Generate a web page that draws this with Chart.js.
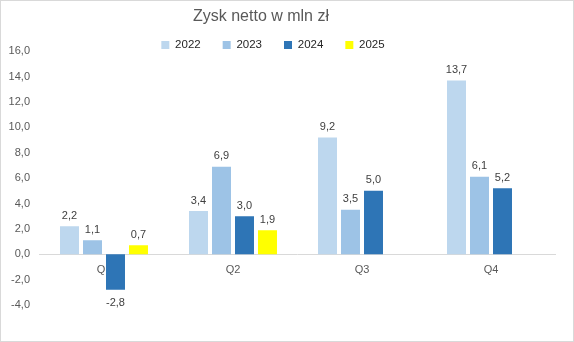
<!DOCTYPE html>
<html>
<head>
<meta charset="utf-8">
<script src="https://cdn.jsdelivr.net/npm/chart.js@4"></script>
<style>
  body { margin: 0; background: #fff; }
  #wrap { width: 574px; height: 342px; box-sizing: border-box; border: 1px solid #d9d9d9; position: relative; }
</style>
</head>
<body>
<div id="wrap"><canvas id="chart"></canvas></div>
<script>
const quarters = ["Q1", "Q2", "Q3", "Q4"];
const years = ["2022", "2023", "2024", "2025"];
const profit2022 = [2.2, 3.4, 9.2, 13.7];
const profit2023 = [1.1, 6.9, 3.5, 6.1];
const profit2024 = [-2.8, 3.0, 5.0, 5.2];
const profit2025 = [0.7, 1.9, null, null];

const colors = ["#bdd7ee", "#9dc3e6", "#2e75b6", "#ffff00"];
const series = [profit2022, profit2023, profit2024, profit2025];

const fmt = v => v.toFixed(1).replace(".", ",");

// value labels above / below each bar
const barLabels = {
    id: "barLabels",
    afterDatasetsDraw(chart) {
        const ctx = chart.ctx;
        ctx.save();
        ctx.font = "11px 'Liberation Sans'";
        ctx.fillStyle = "#404040";
        ctx.textAlign = "center";
        chart.data.datasets.forEach((ds, i) => {
            chart.getDatasetMeta(i).data.forEach((bar, j) => {
                const v = ds.data[j];
                if (v == null) return;
                if (v >= 0) {
                    ctx.textBaseline = "bottom";
                    ctx.fillText(fmt(v), bar.x, bar.y - 5);
                } else {
                    ctx.textBaseline = "top";
                    ctx.fillText(fmt(v), bar.x, bar.y + 8);
                }
            });
        });
        ctx.restore();
    }
};

// title and legend sit a bit left of the middle in the original
const headerShift = {
    id: "headerShift",
    afterLayout(chart) {
        const t = chart.titleBlock;
        t.right = 2 * 260 - t.left;
        const l = chart.legend;
        l.right = 2 * 272 - l.left;
    }
};

new Chart(document.getElementById("chart"), {
    type: "bar",
    data: {
        labels: quarters,
        datasets: years.map((y, i) => ({
            label: y,
            data: series[i],
            backgroundColor: colors[i],
            borderWidth: 0,
            categoryPercentage: 0.713,
            barPercentage: 0.826
        }))
    },
    options: {
        responsive: true,
        maintainAspectRatio: false,
        animation: false,
        layout: { padding: { left: 7, right: 17.5, top: 4, bottom: 36 } },
        plugins: {
            title: {
                display: true,
                text: "Zysk netto w mln zł",
                color: "#595959",
                font: { family: "Liberation Sans", size: 16, weight: "normal" },
                padding: { top: 2.4, bottom: -9.35 }
            },
            legend: {
                maxHeight: 34,
                labels: {
                    boxWidth: 8,
                    boxHeight: 8,
                    padding: 22,
                    color: "#262626",
                    font: { family: "Liberation Sans", size: 11.5 }
                }
            },
            tooltip: { enabled: false }
        },
        scales: {
            x: {
                position: { y: 0 },
                grid: { display: false, drawTicks: false },
                border: { color: "#d9d9d9" },
                ticks: { color: "#595959", padding: 9, font: { family: "Liberation Sans", size: 11 } }
            },
            y: {
                min: -4,
                max: 16,
                grid: { display: false, drawTicks: false },
                border: { display: false },
                afterFit(scale) { scale.width = 31.5; },
                ticks: {
                    stepSize: 2,
                    color: "#595959",
                    padding: 9.5,
                    font: { family: "Liberation Sans", size: 11 },
                    callback: v => fmt(v)
                }
            }
        }
    },
    plugins: [barLabels, headerShift]
});
</script>
</body>
</html>
